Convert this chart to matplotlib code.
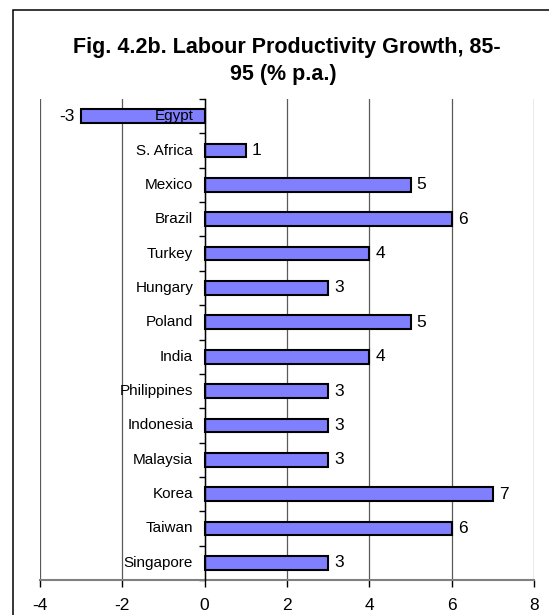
import matplotlib
matplotlib.use("Agg")
import matplotlib.pyplot as plt
from matplotlib.patches import Rectangle

# labour productivity growth 1985-95, % per annum (bottom to top)
countries = ["Singapore", "Taiwan", "Korea", "Malaysia", "Indonesia", "Philippines",
             "India", "Poland", "Hungary", "Turkey", "Brazil", "Mexico", "S. Africa", "Egypt"]
growth = [3, 6, 7, 3, 3, 3, 4, 5, 3, 4, 6, 5, 1, -3]
xticks = [-4, -2, 0, 2, 4, 6, 8]

plt.rcParams['font.family'] = ['Liberation Sans', 'DejaVu Sans']

fig = plt.figure(figsize=(5.49, 6.15), dpi=100)
W, H = 549, 615

# chart frame (runs off the right and bottom edges)
fig.patches.append(Rectangle((13 / W, -0.1), 1.2, 1 - 9.5 / H + 0.1, transform=fig.transFigure,
                             fill=False, edgecolor='black', linewidth=1.1))

ax = fig.add_axes([40 / W, 1 - 580 / H, (534 - 40) / W, (580 - 99) / H])
pos = list(range(len(countries)))
ax.barh(pos, growth, height=0.4, color='#8080FF', edgecolor='black', linewidth=1.5, zorder=3)

ax.set_xlim(-4, 8)
ax.set_ylim(-0.5, len(countries) - 0.5)
ax.set_xticks(xticks)
ax.set_xticklabels([str(t) for t in xticks], fontsize=12.5)
ax.tick_params(axis='x', direction='out', length=5, width=1, pad=8, color='black')
ax.xaxis.grid(True, color='#5a5a5a', linewidth=0.9, zorder=0)

# category axis sits at zero with ticks between categories
ax.spines['left'].set_position(('data', 0))
ax.spines['left'].set_linewidth(1)
ax.spines['left'].set_zorder(4)
ax.set_yticks([p - 0.5 for p in pos] + [len(countries) - 0.5])
ax.set_yticklabels([])
ax.tick_params(axis='y', direction='out', length=4, width=1)
for s in ['top', 'right']:
    ax.spines[s].set_visible(False)
ax.spines['bottom'].set_linewidth(1.5)
ax.spines['bottom'].set_color('#808080')

for p, name, v in zip(pos, countries, growth):
    ax.annotate(name, (0, p), xytext=(-8.3, 0), textcoords='offset points',
                ha='right', va='center', fontsize=11, zorder=5)
    if v >= 0:
        ax.annotate(str(v), (v, p), xytext=(4.5, 0), textcoords='offset points',
                    ha='left', va='center', fontsize=12.5, zorder=5)
    else:
        ax.annotate(str(v), (v, p), xytext=(-4.5, 0), textcoords='offset points',
                    ha='right', va='center', fontsize=12.5, zorder=5)

fig.text(286.5 / W, 1 - 52.7 / H, "Fig. 4.2b. Labour Productivity Growth, 85-",
         ha='center', va='baseline', fontsize=15.5, fontweight='bold')
fig.text(283 / W, 1 - 80 / H, "95 (% p.a.)",
         ha='center', va='baseline', fontsize=15.5, fontweight='bold')

fig.savefig("out.png", dpi=100)
